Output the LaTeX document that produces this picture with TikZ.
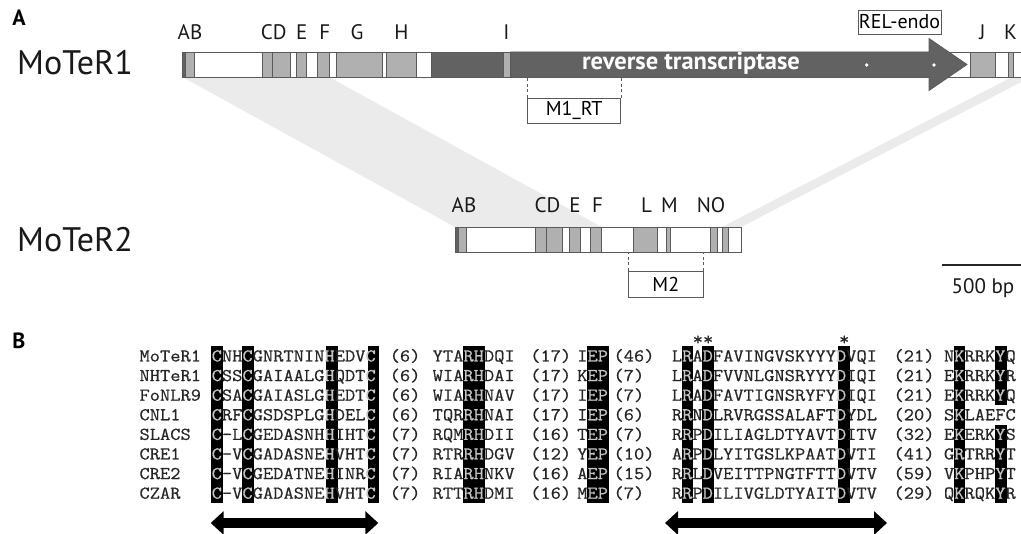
\documentclass[tikz,border=0pt]{standalone}
\usepackage{fontspec}
\setmainfont{PT Sans}
\setmonofont[FakeStretch=1.1,FakeBold=0.6]{Latin Modern Mono}
\usetikzlibrary{arrows.meta}
\definecolor{segg}{HTML}{B0B0B0}
\definecolor{segd}{HTML}{626262}
\definecolor{bandc}{HTML}{EBEBEB}
\definecolor{hlc}{HTML}{C6C6C6}
\definecolor{outl}{HTML}{5A5A5A}
\newcommand{\hlt}[1]{\textcolor{hlc}{#1}}
% start x, column index, number of columns, top y, bottom y
\newcommand{\hcol}[5]{\fill[black] ({#1+(#2-1)*10.45-0.6},#4) rectangle ({#1+(#2-1+#3)*10.45+0.6},#5);}
\begin{document}
\begin{tikzpicture}[x=1pt,y=-1pt,
  seg/.style={draw=outl,line width=0.8pt},
  gseg/.style={seg,fill=segg},
  dseg/.style={seg,fill=segd},
  lbl/.style={font=\fontsize{21}{23}\selectfont,inner sep=0,text=black!90},
  big/.style={font=\fontsize{34}{38}\selectfont,inner sep=0,anchor=west,text=black!90},
  panel/.style={font=\bfseries\fontsize{22}{24}\selectfont,inner sep=0},
  boxn/.style={draw=outl,line width=0.8pt,fill=white,inner sep=0,font=\fontsize{20}{22}\selectfont},
  dsh/.style={draw=outl,line width=0.8pt,dash pattern=on 3pt off 2.5pt},
  seq/.style={font=\ttfamily\fontsize{18.1}{19.6}\selectfont,inner sep=0,anchor=base west,text=black!85},
  dbl/.style={line width=10pt,{Triangle[length=13pt,width=23pt]}-{Triangle[length=13pt,width=23pt]}},
]
\useasboundingbox (0,0) rectangle (1021,534);
\clip (0,0) rectangle (1021,534);

% panel labels
\node[panel] (pA) at (19,18) {A};
\node[panel] (pB) at (19,341) {B};

% correspondence bands
\fill[bandc] (182.3,77) -- (329,77) -- (601.7,227) -- (455,227) -- cycle;
\fill[bandc] (1012,77) -- (1031,77) -- (741,227) -- (722,227) -- cycle;

% MoTeR1
\node[big] (t1) at (17,63) {MoTeR1};
\node[seg,fill=white,inner sep=0,minimum width=857.7pt,minimum height=25pt,anchor=north west] (bar1) at (182.3,52) {};
\draw[dseg] (182.3,52) rectangle (185.7,77);
\foreach \a/\b in {185.7/194,262.7/272.7,272.7/290,296.7/306.7,317.7/329,336.7/382.3,386/416.7,503.3/510.7,970.7/995.7,1008.3/1013.3}
  \draw[gseg] (\a,52) rectangle (\b,77);
\draw[dseg] (431,52) rectangle (503.3,77);
\draw[seg,fill=segd] (510.7,52) -- (929,52) -- (929,38.5) -- (967,64.5) -- (929,90.5) -- (929,77) -- (510.7,77) -- cycle;
\node[font=\bfseries\fontsize{24.5}{26}\selectfont,text=white,inner sep=0] (rt) at (691,63) {reverse transcriptase};
\fill[white] (866.7,65) circle (1.8);
\fill[white] (934,65) circle (1.8);
\node[boxn,minimum width=83pt,minimum height=24pt] (rel) at (899.5,22) {REL-endo};

\foreach \t/\x in {AB/190,CD/273.7,E/301.7,F/324.8,G/357,H/401.5,I/506.5,J/982.5,K/1010.5}
  \node[lbl] at (\x,32) {\t};

\node[boxn,minimum width=93pt,minimum height=25pt] (m1) at (574.2,110.5) {M1\_RT};
\draw[dsh] (m1.north west) -- (m1.north west |- bar1.south);
\draw[dsh] (m1.north east) -- (m1.north east |- bar1.south);

% MoTeR2
\node[big] (t2) at (17,240) {MoTeR2};
\node[seg,fill=white,inner sep=0,minimum width=285.7pt,minimum height=25pt,anchor=north west] (bar2) at (455,227) {};
\draw[dseg] (455,227) rectangle (458.3,252);
\foreach \a/\b in {458.3/466.7,535/546,546/562.7,569.3/580,590.7/601.7,633.3/657.3,666/670.7,710/717.7,722.7/728.3}
  \draw[gseg] (\a,227) rectangle (\b,252);
\foreach \t/\x in {AB/464,CD/547.5,E/575,F/597.5,L/646.5,M/669.5,NO/711}
  \node[lbl] at (\x,205) {\t};

\node[boxn,minimum width=75pt,minimum height=26pt] (m2) at (665.8,284) {M2};
\draw[dsh] (m2.north west) -- (m2.north west |- bar2.south);
\draw[dsh] (m2.north east) -- (m2.north east |- bar2.south);

% scale bar
\coordinate (sb1) at (942,265);
\coordinate (sb2) at (1030,265);
\draw[line width=1.5pt,black!85] (sb1) -- (sb2);
\node[lbl] (sbt) at (983,288) {500 bp};

% alignment highlight columns
\hcol{211.5}{1}{1}{346}{503}
\hcol{211.5}{4}{1}{346}{503}
\hcol{211.5}{12}{1}{346}{503}
\hcol{211.5}{16}{1}{346}{503}
\hcol{432.5}{4}{2}{346}{503}
\hcol{577}{2}{2}{346}{503}
\hcol{671.7}{2}{1}{346}{503}
\hcol{671.7}{4}{1}{346}{503}
\hcol{671.7}{17}{1}{346}{503}
\hcol{943.8}{2}{1}{346}{503}
\hcol{943.8}{6}{1}{346}{405}
\hcol{943.8}{6}{1}{424.6}{503}

\node[seq,text depth=0pt,text height=11pt] (st1) at (692.6,345) {**};
\node[seq,text depth=0pt,text height=11pt] (st2) at (838.9,345) {*};

\foreach \i/\Nm/\SqA/\NuA/\SqB/\NuB/\SqC/\NuC/\SqD/\NuD/\SqE in {
 1/MoTeR1/\hlt{C}NH\hlt{C}GNRTNIN\hlt{H}EDV\hlt{C}/6/YTA\hlt{RH}DQI/17/I\hlt{EP}/46/L\hlt{R}A\hlt{D}FAVINGVSKYYY\hlt{D}VQI/21/N\hlt{K}RRK\hlt{Y}Q,
 2/NHTeR1/\hlt{C}SS\hlt{C}GAIAALG\hlt{H}QDT\hlt{C}/6/WIA\hlt{RH}DAI/17/K\hlt{EP}/7/L\hlt{R}A\hlt{D}FVVNLGNSRYYY\hlt{D}IQI/21/E\hlt{K}RRK\hlt{Y}R,
 3/FoNLR9/\hlt{C}SA\hlt{C}GAIASLG\hlt{H}EDT\hlt{C}/6/WIA\hlt{RH}NAV/17/I\hlt{EP}/7/L\hlt{R}A\hlt{D}FAVTIGNSRYFY\hlt{D}IQI/21/E\hlt{K}RRK\hlt{Y}Q,
 4/CNL1/\hlt{C}RF\hlt{C}GSDSPLG\hlt{H}DEL\hlt{C}/6/TQR\hlt{RH}NAI/17/I\hlt{EP}/6/R\hlt{R}N\hlt{D}LRVRGSSALAFT\hlt{D}YDL/20/S\hlt{K}LAEFC,
 5/SLACS/\hlt{C}-L\hlt{C}GEDASNH\hlt{H}IHT\hlt{C}/7/RQM\hlt{RH}DII/16/T\hlt{EP}/7/R\hlt{R}P\hlt{D}ILIAGLDTYAVT\hlt{D}ITV/32/E\hlt{K}ERK\hlt{Y}S,
 6/CRE1/\hlt{C}-V\hlt{C}GADASNE\hlt{H}VHT\hlt{C}/7/RTR\hlt{RH}DGV/12/Y\hlt{EP}/10/A\hlt{R}P\hlt{D}LYITGSLKPAAT\hlt{D}VTI/41/G\hlt{R}TRR\hlt{Y}T,
 7/CRE2/\hlt{C}-V\hlt{C}GEDATNE\hlt{H}INR\hlt{C}/7/RIA\hlt{RH}NKV/16/A\hlt{EP}/15/R\hlt{R}L\hlt{D}VEITTPNGTFTT\hlt{D}VTV/59/V\hlt{K}PHP\hlt{Y}T,
 8/CZAR/\hlt{C}-V\hlt{C}GADASNE\hlt{H}VHT\hlt{C}/7/RTT\hlt{RH}DMI/16/M\hlt{EP}/7/R\hlt{R}P\hlt{D}ILIVGLDTYAIT\hlt{D}VTV/29/Q\hlt{K}RQK\hlt{Y}R}
{
  \pgfmathsetmacro{\yb}{356+(\i-1)*19.6+5.5}
  \node[seq] (nm\i) at (139.3,\yb) {\Nm};
  \node[seq] (qa\i) at (211.5,\yb) {\SqA};
  \node[seq] (na\i) at (389.5,\yb) {(\NuA)};
  \node[seq] (qb\i) at (432.5,\yb) {\SqB};
  \node[seq] (nb\i) at (530,\yb) {(\NuB)};
  \node[seq] (qc\i) at (577,\yb) {\SqC};
  \node[seq] (nc\i) at (613.3,\yb) {(\NuC)};
  \node[seq] (qd\i) at (671.7,\yb) {\SqD};
  \node[seq] (nd\i) at (893.3,\yb) {(\NuD)};
  \node[seq] (qe\i) at (943.8,\yb) {\SqE};
}

% double arrows
\coordinate (la1) at (210.7,523);
\coordinate (la2) at (378.3,523);
\coordinate (ra1) at (665,523);
\coordinate (ra2) at (887,523);
\draw[dbl] (la1) -- (la2);
\draw[dbl] (ra1) -- (ra2);
\end{tikzpicture}
\end{document}
